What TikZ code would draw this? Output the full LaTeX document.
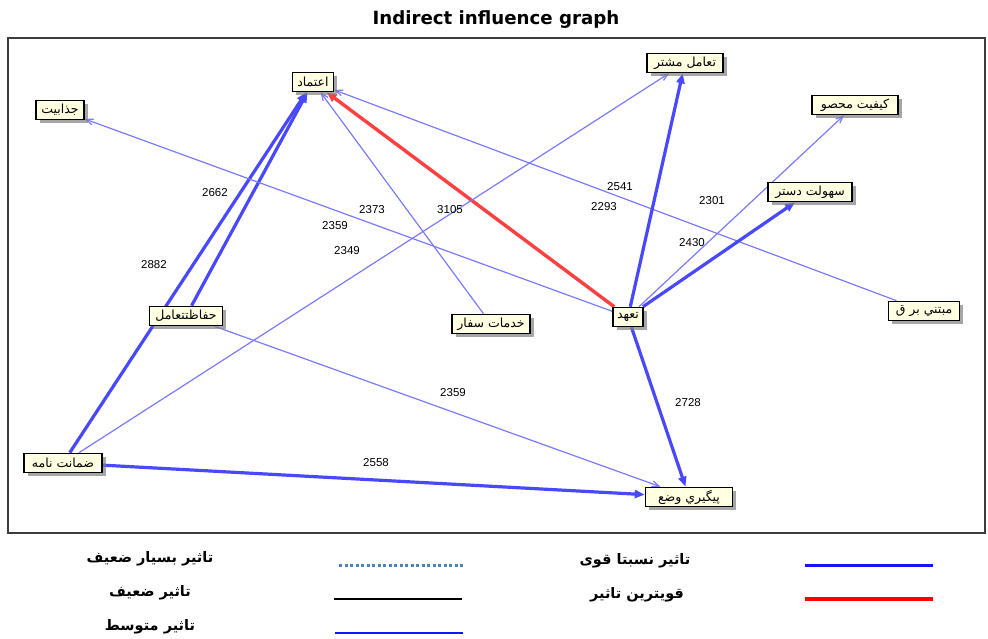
\documentclass[tikz,border=0pt]{standalone}
\usepackage{fontspec}
\setmainfont{Liberation Sans}
\newfontfamily\arabicfont[Script=Arabic]{DejaVu Sans}
\newfontfamily\titlefont{DejaVu Sans}
\TeXXeTstate=1
\usetikzlibrary{arrows.meta,shadows,backgrounds}

\definecolor{nodefill}{RGB}{255,255,226}
\definecolor{thinblue}{RGB}{122,122,255}
\definecolor{thickblue}{RGB}{72,72,255}
\definecolor{strongred}{RGB}{255,64,64}
\definecolor{framegray}{RGB}{60,60,60}
\definecolor{dotblue}{RGB}{79,129,189}
\definecolor{legendblue}{RGB}{20,20,255}

\begin{document}
\begin{tikzpicture}[x=1pt, y=-1pt,
  actor/.style={draw=black, line width=1.6pt, fill=nodefill,
    inner xsep=1.5pt, inner ysep=0pt, minimum height=19pt,
    font=\arabicfont\fontsize{12.5}{14}\selectfont,
    drop shadow={shadow xshift=3.5pt, shadow yshift=-3.5pt, fill=black!50, opacity=0.7}},
  weak/.style={draw=thinblue, line width=1.2pt, -{Straight Barb[length=7pt,width=6pt]}},
  strong/.style={draw=thickblue, line width=3.2pt, -{Triangle[length=10pt,width=8pt]}},
  strongest/.style={draw=strongred, line width=3.4pt, -{Triangle[length=10pt,width=8.5pt]}},
  wlabel/.style={font=\fontsize{11.5}{13}\selectfont, text=black, inner sep=0pt},
  legtext/.style={font=\arabicfont\bfseries\fontsize{14.5}{17}\selectfont, inner sep=0pt},
]
\useasboundingbox (0,0) rectangle (988,638);

% title
\node[font=\titlefont\bfseries\fontsize{18.2}{21}\selectfont] (title) at (496,20) {Indirect influence graph};

% actors
\node[actor, minimum width=41pt] (etemad)   at (313,82)  {\beginR اعتماد\endR};
\node[actor, minimum width=48pt] (jazabiat) at (60,110)  {\beginR جذابیت\endR};
\node[actor, minimum width=76pt] (tamol)    at (685,63)  {\beginR تعامل مشتر\endR};
\node[actor, minimum width=86pt] (keyfiat)  at (855,105) {\beginR کیفیت محصو\endR};
\node[actor, minimum width=84pt] (sohulat)  at (810,192) {\beginR سهولت دستر\endR};
\node[actor, minimum width=73pt] (hefazat)  at (186,316) {\beginR حفاظتتعامل\endR};
\node[actor, minimum width=78pt] (khadamat) at (491,324) {\beginR خدمات سفار\endR};
\node[actor, minimum width=30pt] (taahod)   at (628,317) {\beginR تعهد\endR};
\node[actor, minimum width=71pt] (mobtani)  at (924,311) {\beginR مبتني بر ق\endR};
\node[actor, minimum width=78pt] (zemanat)  at (63,463)  {\beginR ضمانت نامه\endR};
\node[actor, minimum width=87pt] (peygiri)  at (689,497) {\beginR پیگیري وضع\endR};

% frame and ties, kept beneath the actor boxes
\begin{pgfonlayer}{background}
  \draw[framegray, line width=1.6pt] (8,38) rectangle (985,533);

  \draw[strong]    (zemanat) -- (etemad);
  \draw[strong]    (hefazat) -- (etemad);
  \draw[weak]      (khadamat) -- (etemad);
  \draw[strongest] (taahod) -- (etemad);
  \draw[weak]      (mobtani) -- (etemad);
  \draw[weak]      (taahod) -- (jazabiat);
  \draw[weak]      (zemanat) -- (tamol);
  \draw[strong]    (taahod) -- (tamol);
  \draw[weak]      (taahod) -- (keyfiat);
  \draw[strong]    (taahod) -- (sohulat);
  \draw[strong]    (taahod) -- (peygiri);
  \draw[weak]      (hefazat) -- (peygiri);
  \draw[strong]    (zemanat) -- (peygiri);
\end{pgfonlayer}

% tie values
\node[wlabel] (v2662)  at (215,193) {2662};
\node[wlabel] (v2882)  at (154,265) {2882};
\node[wlabel] (v2373)  at (372,210) {2373};
\node[wlabel] (v3105)  at (450,210) {3105};
\node[wlabel] (v2359a) at (335,226) {2359};
\node[wlabel] (v2349)  at (347,251) {2349};
\node[wlabel] (v2541)  at (620,187) {2541};
\node[wlabel] (v2293)  at (604,207) {2293};
\node[wlabel] (v2301)  at (712,201) {2301};
\node[wlabel] (v2430)  at (692,243) {2430};
\node[wlabel] (v2359b) at (453,393) {2359};
\node[wlabel] (v2728)  at (688,403) {2728};
\node[wlabel] (v2558)  at (376,463) {2558};

% legend
\node[legtext] (lg1) at (150,559) {\beginR تاثیر بسیار ضعیف\endR};
\node[legtext] (lg2) at (150,593) {\beginR تاثیر ضعیف\endR};
\node[legtext] (lg3) at (150,627) {\beginR تاثیر متوسط\endR};
\node[legtext] (lg4) at (635,561) {\beginR تاثیر نسبتا قوی\endR};
\node[legtext] (lg5) at (637,595) {\beginR قویترین تاثیر\endR};

\draw[dotblue, line width=3pt, dash pattern=on 3pt off 2.5pt] (339,565) -- (463,565);
\draw[black, line width=1.5pt] (334,599) -- (462,599);
\draw[legendblue, line width=2.4pt] (335,633) -- (463,633);
\draw[legendblue, line width=3pt] (805,565) -- (933,565);
\draw[red, line width=4pt] (805,599) -- (933,599);
\end{tikzpicture}
\end{document}
